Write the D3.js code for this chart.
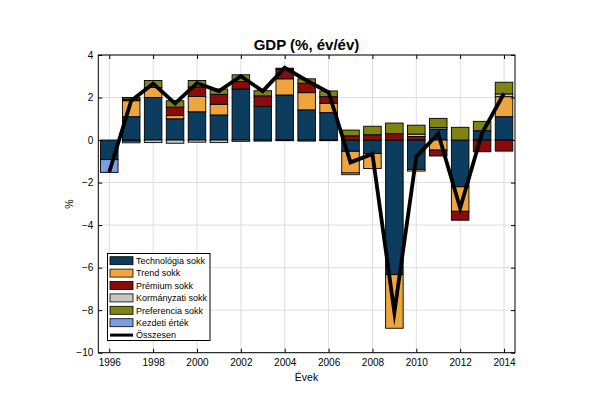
<!DOCTYPE html>
<html><head><meta charset="utf-8">
<script src="https://cdn.jsdelivr.net/npm/d3@7"></script>
<style>body{margin:0;background:#fff}svg{display:block}text{font-family:"Liberation Sans",Arial,sans-serif}</style>
</head><body>
<svg id="c" width="595" height="420"></svg>
<script>
const years   = [1996,1997,1998,1999,2000,2001,2002,2003,2004,2005,2006,2007,2008,2009,2010,2011,2012,2013,2014];
const tech    = [-0.92,1.1,2.0,1.0,1.33,1.18,2.4,1.58,2.12,1.42,1.29,-0.53,-0.63,-6.33,-1.38,0.52,-2.2,0.44,1.1];
const trend   = [0,0.75,0.47,0.15,0.72,0.5,0,0,0.76,0.81,0.44,-1.02,-0.71,-2.52,-0.08,-0.47,-1.15,0,0.94];
const premium = [0,0.08,0,0.4,0.45,0.47,0.35,0.5,0.45,0.44,0.31,0.2,0.25,0.3,0.17,-0.28,-0.42,-0.55,-0.52];
const korm    = [0,-0.05,-0.12,-0.15,-0.1,-0.12,-0.06,-0.05,-0.03,-0.05,-0.03,-0.08,0,0,0.11,0.07,0,0,0.13];
const pref    = [0,0.07,0.33,0.3,0.3,0.25,0.32,0.24,0.05,0.21,0.27,0.27,0.4,0.5,0.42,0.43,0.6,0.44,0.55];
const kezdeti = [-0.6,-0.08,0,0,0,0,0,0,0,0,0,0,0,0,0,0,0,0,0];
const total   = [-1.5,1.85,2.65,1.72,2.68,2.3,3.0,2.3,3.4,2.8,2.25,-1.05,-0.65,-8.1,-0.78,0.3,-3.2,0.33,2.2];

const seriesNames = ["Technológia sokk","Trend sokk","Prémium sokk","Kormányzati sokk","Preferencia sokk","Kezdeti érték"];
const seriesVals  = [tech,trend,premium,korm,pref,kezdeti];
const colors      = ["#0c3c5e","#eea53e","#8a0b0b","#c6c6c6","#7f8411","#7b9de6"];
const xTicks = d3.range(1996,2015,2);
const yTicks = d3.range(-10,5,2);

const svg = d3.select("#c");
svg.append("rect").attr("width",595).attr("height",420).attr("fill","#fff");
const x = d3.scaleLinear().domain([1995.5,2014.5]).range([98.3,515]);
const y = d3.scaleLinear().domain([-10,4]).range([352.7,55]);
const bw = (x(1)-x(0))*0.8;

// grid
const g = svg.append("g");
g.selectAll("line.vx").data(xTicks).join("line").attr("x1",d=>x(d)).attr("x2",d=>x(d))
  .attr("y1",y(-10)).attr("y2",y(4)).attr("stroke","#dedede").attr("stroke-width",1);
g.selectAll("line.hy").data(yTicks).join("line").attr("y1",d=>y(d)).attr("y2",d=>y(d))
  .attr("x1",x(1995.5)).attr("x2",x(2014.5)).attr("stroke","#dedede").attr("stroke-width",1);

// stacked bars
const table = years.map((yr,i)=>{const o={year:yr}; seriesNames.forEach((n,k)=>o[n]=seriesVals[k][i]); return o;});
const stacked = d3.stack().keys(seriesNames).offset(d3.stackOffsetDiverging)(table);
stacked.forEach((layer,k)=>{
  svg.append("g").selectAll("rect").data(layer.filter(d=>Math.abs(d[1]-d[0])>1e-9)).join("rect")
    .attr("x",d=>x(d.data.year)-bw/2).attr("width",bw)
    .attr("y",d=>y(Math.max(d[0],d[1]))).attr("height",d=>Math.abs(y(d[0])-y(d[1])))
    .attr("fill",colors[k]).attr("stroke","#000").attr("stroke-width",0.9);
});

// total line
svg.append("path").datum(years.map((yr,i)=>[yr,total[i]]))
  .attr("d",d3.line().x(d=>x(d[0])).y(d=>y(d[1])))
  .attr("fill","none").attr("stroke","#000").attr("stroke-width",3.8).attr("stroke-linejoin","miter").attr("stroke-miterlimit",10);

// axes
const axB = svg.append("g").attr("transform",`translate(0,${y(-10)})`)
  .call(d3.axisBottom(x).tickValues(xTicks).tickFormat(d3.format("d")).tickSizeInner(-4).tickSizeOuter(0).tickPadding(6));
const axT = svg.append("g").attr("transform",`translate(0,${y(4)})`)
  .call(d3.axisTop(x).tickValues(xTicks).tickFormat("").tickSizeInner(-4).tickSizeOuter(0));
const axL = svg.append("g").attr("transform",`translate(${x(1995.5)},0)`)
  .call(d3.axisLeft(y).tickValues(yTicks).tickFormat(d3.format("d")).tickSizeInner(-4).tickSizeOuter(0).tickPadding(5));
const axR = svg.append("g").attr("transform",`translate(${x(2014.5)},0)`)
  .call(d3.axisRight(y).tickValues(yTicks).tickFormat("").tickSizeInner(-4).tickSizeOuter(0));
[axB,axT,axL,axR].forEach(a=>{
  a.select(".domain").remove();
  a.selectAll("line").attr("stroke","#000");
  a.selectAll("text").attr("font-size",10).attr("fill","#000").attr("font-family","Liberation Sans, Arial, sans-serif");
});
svg.append("rect").attr("x",x(1995.5)).attr("y",y(4)).attr("width",x(2014.5)-x(1995.5)).attr("height",y(-10)-y(4))
  .attr("fill","none").attr("stroke","#000").attr("stroke-width",1);

// titles
svg.append("text").attr("x",306.5).attr("y",50).attr("text-anchor","middle").attr("font-size",15).attr("font-weight","bold").text("GDP (%, év/év)");
svg.append("text").attr("x",306.5).attr("y",381).attr("text-anchor","middle").attr("font-size",10.5).text("Évek");
svg.append("text").attr("transform","translate(73,204) rotate(-90)").attr("text-anchor","middle").attr("font-size",10.5).text("%");

// legend
const lg = svg.append("g");
lg.append("rect").attr("x",107.5).attr("y",253.5).attr("width",102.5).attr("height",87).attr("fill","#fff").attr("stroke","#000").attr("stroke-width",1);
const legendItems = seriesNames.map((n,k)=>({name:n,color:colors[k],type:"bar"})).concat([{name:"Összesen",type:"line"}]);
legendItems.forEach((it,i)=>{
  const cy = 260.7 + i*12.4;
  if(it.type==="bar"){
    lg.append("rect").attr("x",110).attr("y",cy-4).attr("width",23).attr("height",8).attr("fill",it.color).attr("stroke","#000").attr("stroke-width",0.8);
  } else {
    lg.append("line").attr("x1",110).attr("x2",133).attr("y1",cy).attr("y2",cy).attr("stroke","#000").attr("stroke-width",3);
  }
  lg.append("text").attr("x",136).attr("y",cy+3.2).attr("font-size",9).text(it.name);
});
</script>
</body></html>
